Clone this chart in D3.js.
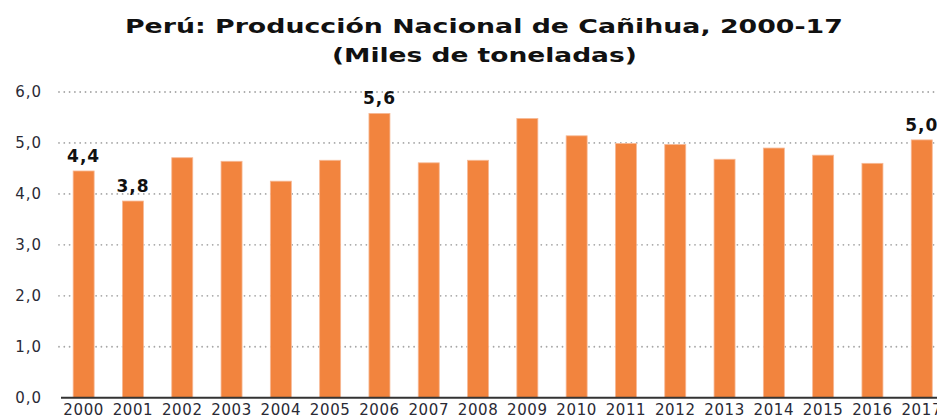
<!DOCTYPE html>
<html><head><meta charset="utf-8">
<script src="https://cdn.jsdelivr.net/npm/d3@7"></script>
<style>
html,body{margin:0;padding:0;background:#fff;overflow:hidden;}
svg{display:block;}
</style></head>
<body>
<svg id="chart" width="937" height="419"></svg>
<script>
const titleLines = ["Perú: Producción Nacional de Cañihua, 2000-17", "(Miles de toneladas)"];
const years = ["2000","2001","2002","2003","2004","2005","2006","2007","2008","2009","2010","2011","2012","2013","2014","2015","2016","2017"];
const values = [4.45, 3.86, 4.71, 4.64, 4.25, 4.66, 5.58, 4.61, 4.66, 5.48, 5.14, 4.99, 4.97, 4.68, 4.90, 4.76, 4.60, 5.06];
const valueLabels = ["4,4","3,8",null,null,null,null,"5,6",null,null,null,null,null,null,null,null,null,null,"5,0"];
const yTicks = [0,1,2,3,4,5,6];
const yTickLabels = ["0,0","1,0","2,0","3,0","4,0","5,0","6,0"];

const svg = d3.select("#chart");
const x = d3.scaleBand().domain(years).range([59, 59 + 18*49.3]).paddingInner(0.574).paddingOuter(0.287);
const y = d3.scaleLinear().domain([0,6]).range([397.7, 92]);

// title: rendered at cap height of the reference, stretched horizontally to its width
const tfont = "'DejaVu Sans', sans-serif";
const tSpecs = [{x: 125, y: 33, w: 718}, {x: 332, y: 62, w: 305}];
titleLines.forEach((t, i) => {
  const g = svg.append("g");
  const el = g.append("text").attr("x", 0).attr("y", 0)
    .style("font-family", tfont).style("font-weight","bold").style("font-size","20px")
    .attr("fill","#111").text(t);
  const w = el.node().getComputedTextLength();
  g.attr("transform", `translate(${tSpecs[i].x},${tSpecs[i].y}) scale(${tSpecs[i].w / w},1)`);
});

// gridlines
const grid = svg.append("g");
grid.selectAll("line").data(yTicks.filter(d => d > 0)).join("line")
  .attr("x1", 59).attr("x2", 937)
  .attr("y1", d => y(d)).attr("y2", d => y(d))
  .attr("stroke", "#a6a6a6").attr("stroke-width", 1.8)
  .attr("stroke-linecap", "round").attr("stroke-dasharray", "0,5.3");

// y axis labels
const yAxis = d3.axisLeft(y).tickValues(yTicks).tickFormat((d,i) => yTickLabels[i]).tickSize(0).tickPadding(0);
const ga = svg.append("g").attr("transform", "translate(42,0)").call(yAxis);
ga.select(".domain").remove();
ga.selectAll("text").style("font-family", "'DejaVu Sans', sans-serif").style("font-size", "15px")
  .style("letter-spacing", "1px").attr("fill", "#2a2a35");

// bars
svg.append("g").selectAll("rect").data(values).join("rect")
  .attr("x", (d,i) => x(years[i])).attr("width", x.bandwidth())
  .attr("y", d => y(d)).attr("height", d => y(0) - y(d))
  .attr("fill", "#f2843e").attr("stroke", "#f7b996").attr("stroke-width", 0.8);

// x axis
const xAxis = d3.axisBottom(x).tickSize(0).tickPadding(0);
const gx = svg.append("g").attr("transform", `translate(0,${y(0)})`).call(xAxis);
gx.select(".domain").remove();
gx.selectAll("text").attr("dy", null).attr("y", 17).style("font-family", "'DejaVu Sans', sans-serif").style("font-size", "15px")
  .style("letter-spacing", "0.6px").attr("fill", "#2a2a35");
svg.append("line").attr("x1", 61).attr("x2", 937).attr("y1", y(0)).attr("y2", y(0)).attr("stroke", "#333").attr("stroke-width", 2);

// value labels
svg.append("g").selectAll("text").data(values.map((v,i)=>({v, i, l: valueLabels[i]})).filter(d => d.l)).join("text")
  .attr("x", d => x(years[d.i]) + x.bandwidth()/2).attr("y", d => y(d.v) - 9)
  .attr("text-anchor", "middle").style("font-family", "'DejaVu Sans', sans-serif").style("font-weight", "bold").style("font-size", "17px")
  .style("letter-spacing", "1px").attr("fill", "#111").text(d => d.l);
</script>
</body></html>
